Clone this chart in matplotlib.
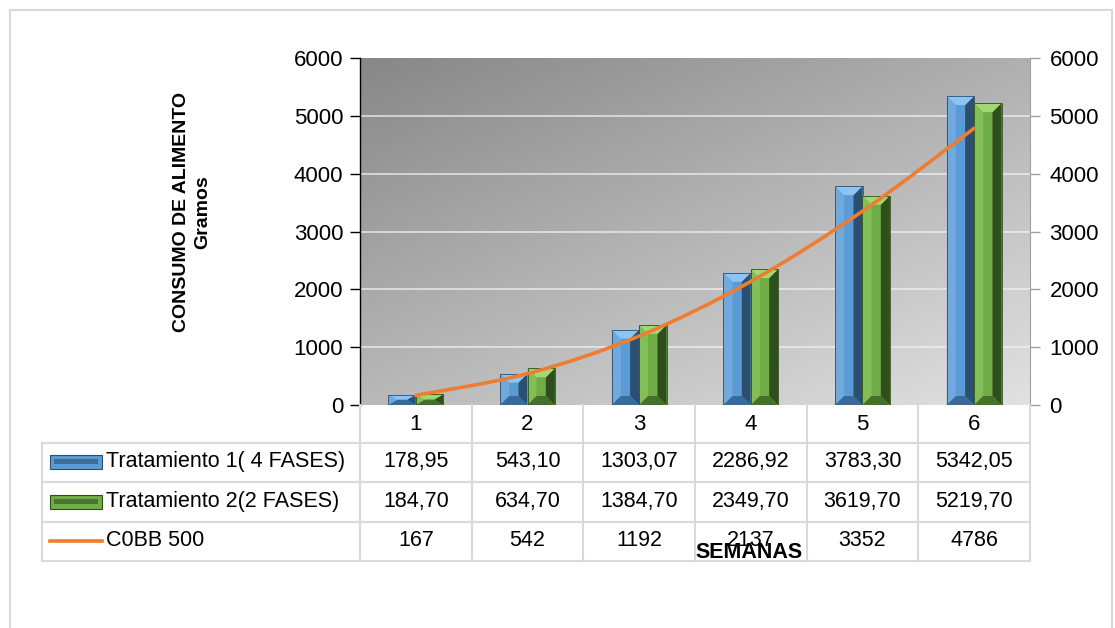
import numpy as np
import matplotlib
matplotlib.use('Agg')
import matplotlib.pyplot as plt
from matplotlib.patches import Polygon, Rectangle
from matplotlib.path import Path
from matplotlib.patches import PathPatch
from matplotlib.lines import Line2D
import matplotlib.transforms as mtransforms

plt.rcParams['font.family'] = ['Liberation Sans', 'DejaVu Sans']

# data
semanas = ['1', '2', '3', '4', '5', '6']
tratamiento1 = [178.95, 543.10, 1303.07, 2286.92, 3783.30, 5342.05]
tratamiento2 = [184.70, 634.70, 1384.70, 2349.70, 3619.70, 5219.70]
cobb500 = [167, 542, 1192, 2137, 3352, 4786]
nombres = ['Tratamiento 1( 4 FASES)', 'Tratamiento 2(2 FASES)', 'C0BB 500']
y_ticks = [0, 1000, 2000, 3000, 4000, 5000, 6000]

W, H = 1115, 628
fig = plt.figure(figsize=(W / 100, H / 100), dpi=100)

def fx(x):
    return x / W

def fy(y):
    return 1 - y / H

# outer frame
fig.patches.append(Rectangle((fx(10), fy(640)), fx(1102), fy(10) - fy(640), transform=fig.transFigure,
                             fill=False, edgecolor='#d9d9d9', linewidth=1.5))

ax = fig.add_axes([fx(360), fy(405), fx(670), fy(58) - fy(405)])
n = len(semanas)
x = np.arange(n)
ax.set_xlim(-0.5, n - 0.5)
ax.set_ylim(0, 6000)

# gradient background
gx, gy = np.meshgrid(np.linspace(0, 1, 200), np.linspace(1, 0, 200))
g = (gx * 0.45 + (1 - gy) * 0.55)
ax.imshow(g, extent=(-0.5, n - 0.5, 0, 6000), aspect='auto', cmap='gray',
          vmin=-1.51, vmax=1.34, zorder=0, interpolation='bilinear')

for t in y_ticks[1:-1]:
    ax.axhline(t, color='#f2f2f2', linewidth=1.2, alpha=0.8, zorder=1)

# bevelled bars
bw = 0.245
ypp = 6000 / 347.0  # data units per pixel

def bevel_bar(xc, h, main, light, dark, top, bottom):
    x0, x1 = xc - bw / 2, xc + bw / 2
    b = bw * 0.33
    by = min(9 * ypp, h / 2)
    ax.add_patch(Rectangle((x0, 0), bw, h, facecolor=main, edgecolor='none', zorder=2))
    ax.add_patch(Polygon([(x0, 0), (x0 + b, by), (x0 + b, h - by), (x0, h)],
                         facecolor=light, edgecolor='none', zorder=2))
    ax.add_patch(Polygon([(x1, 0), (x1 - b, by), (x1 - b, h - by), (x1, h)],
                         facecolor=dark, edgecolor='none', zorder=2))
    ax.add_patch(Polygon([(x0, h), (x1, h), (x1 - b, h - by), (x0 + b, h - by)],
                         facecolor=top, edgecolor='none', zorder=2))
    ax.add_patch(Polygon([(x0, 0), (x1, 0), (x1 - b, by), (x0 + b, by)],
                         facecolor=bottom, edgecolor='none', zorder=2))
    ax.add_patch(Rectangle((x0, 0), bw, h, facecolor='none', edgecolor=dark, linewidth=0.6, zorder=2))

blue = ('#5b9bd5', '#6fa9de', '#2c4f70', '#8ec4f2', '#3a6a95')
green = ('#70ad47', '#82bf57', '#2e4f1b', '#a2d872', '#476e2c')
for i in range(n):
    bevel_bar(x[i] - bw / 2, tratamiento1[i], *blue)
    bevel_bar(x[i] + bw / 2, tratamiento2[i], *green)

# smoothed line (Catmull-Rom -> Bezier)
pts = np.column_stack([x, cobb500]).astype(float)
verts = [tuple(pts[0])]
codes = [Path.MOVETO]
for i in range(n - 1):
    p0 = pts[i - 1] if i > 0 else pts[i]
    p1, p2 = pts[i], pts[i + 1]
    p3 = pts[i + 2] if i + 2 < n else pts[i + 1]
    c1 = p1 + (p2 - p0) / 6
    c2 = p2 - (p3 - p1) / 6
    verts += [tuple(c1), tuple(c2), tuple(p2)]
    codes += [Path.CURVE4] * 3
ax.add_patch(PathPatch(Path(verts, codes), facecolor='none', edgecolor='#ed7d31',
                       linewidth=2.6, capstyle='round', zorder=3))

ax.set_xticks([])
ax.set_yticks(y_ticks)
ax.tick_params(axis='y', labelsize=16, length=7, width=1, pad=5)
for s in ['top', 'right', 'bottom']:
    ax.spines[s].set_visible(False)
ax.spines['left'].set_linewidth(1)

ax2 = ax.twinx()
ax2.set_ylim(0, 6000)
ax2.set_yticks(y_ticks)
ax2.tick_params(axis='y', labelsize=16, length=7, width=1, color='#a0a0a0', pad=7)
for s in ['top', 'left', 'bottom']:
    ax2.spines[s].set_visible(False)
ax2.spines['right'].set_color('#a0a0a0')

# y label
fig.text(fx(192), fy(212), 'CONSUMO DE ALIMENTO\nGramos', rotation=90, ha='center', va='center',
         fontsize=14, fontweight='bold', multialignment='center', linespacing=1.3)

# data table
tr = mtransforms.blended_transform_factory(ax.transData, fig.transFigure)
gc = '#d9d9d9'
rows_y = [443, 482, 522, 561]
for ry in rows_y:
    fig.add_artist(Line2D([fx(42), fx(1030)], [fy(ry), fy(ry)], color=gc, lw=1.5))
fig.add_artist(Line2D([fx(42), fx(42)], [fy(443), fy(561)], color=gc, lw=1.5))
for b in np.arange(n + 1) - 0.5:
    fig.add_artist(Line2D([b, b], [fy(405), fy(561)], color=gc, lw=1.5, transform=tr))

for i in range(n):
    fig.text(x[i], fy(424), semanas[i], transform=tr, ha='center', va='center', fontsize=16)
    fig.text(x[i], fy(462), f'{tratamiento1[i]:.2f}'.replace('.', ','), transform=tr,
             ha='center', va='center', fontsize=15.5)
    fig.text(x[i], fy(502), f'{tratamiento2[i]:.2f}'.replace('.', ','), transform=tr,
             ha='center', va='center', fontsize=15.5)
    fig.text(x[i], fy(541), f'{cobb500[i]}', transform=tr, ha='center', va='center', fontsize=15.5)

# legend keys in the table
for cy, col in [(462, blue), (502, green)]:
    fig.patches.append(Rectangle((fx(50), fy(cy + 7)), fx(52), fy(cy - 7) - fy(cy + 7),
                                 transform=fig.transFigure, facecolor=col[0], edgecolor=col[2], lw=0.8))
    fig.patches.append(Rectangle((fx(54), fy(cy + 2)), fx(44), fy(cy - 3) - fy(cy + 2),
                                 transform=fig.transFigure, facecolor=col[2], edgecolor='none', alpha=0.6))
fig.add_artist(Line2D([fx(50), fx(102)], [fy(541), fy(541)], color='#ed7d31', lw=2.6))
for cy, name in zip([462, 502, 541], nombres):
    fig.text(fx(106), fy(cy), name, ha='left', va='center', fontsize=15.5)

fig.text(fx(749), fy(553), 'SEMANAS', ha='center', va='center', fontsize=15.5, fontweight='bold')

fig.savefig('out.png', dpi=100)
